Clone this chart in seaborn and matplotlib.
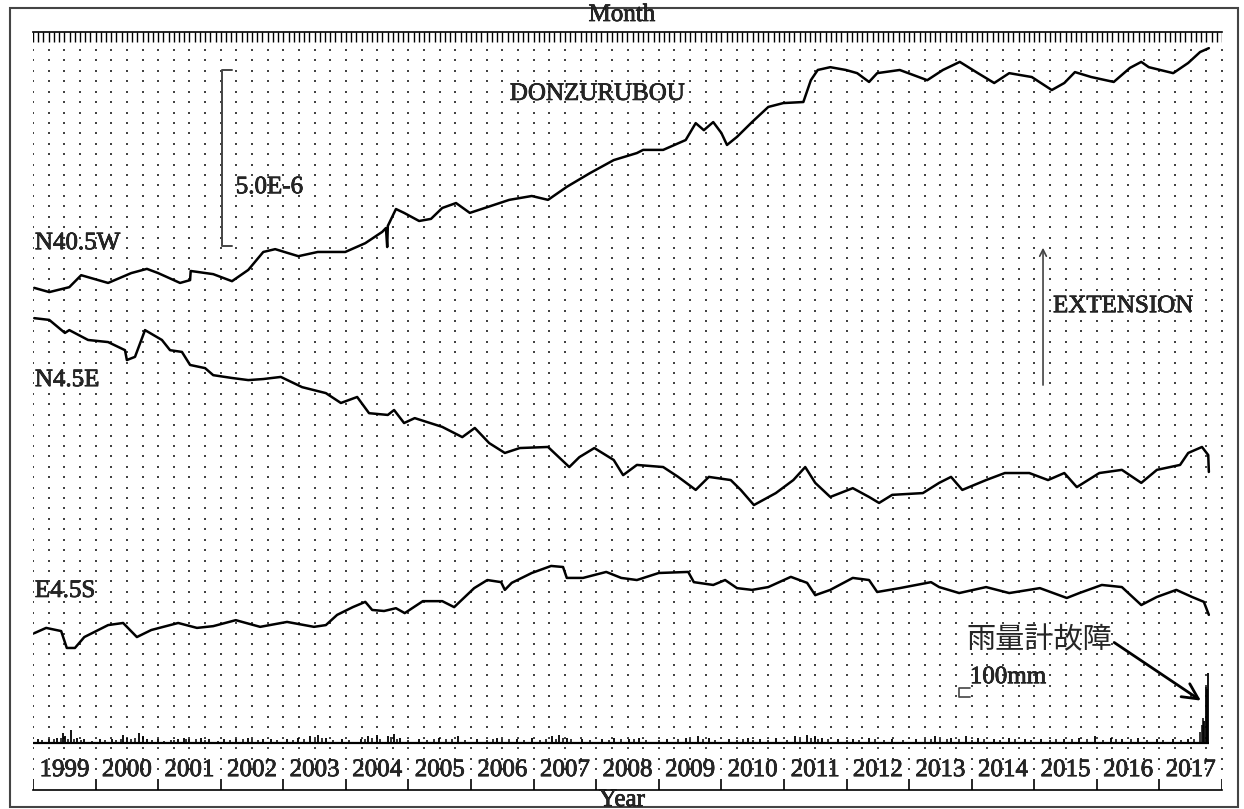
import numpy as np
import matplotlib
matplotlib.use("Agg")
import matplotlib.pyplot as plt
from matplotlib.patches import Rectangle
import matplotlib.patheffects as pe
import seaborn as sns

# strain in units of 1e-6 on one shared vertical scale (channels already offset)
n405w_year = [1999.02, 1999.26, 1999.58, 1999.77, 2000.20, 2000.57, 2000.82, 2001.00, 2001.35, 2001.51,
              2001.52, 2001.88, 2002.18, 2002.44, 2002.68, 2002.87, 2003.24, 2003.55, 2003.99, 2004.31,
              2004.58, 2004.64, 2004.66, 2004.67, 2004.80, 2004.93, 2005.17, 2005.36, 2005.54, 2005.76,
              2005.98, 2006.22, 2006.61, 2006.97, 2007.23, 2007.53, 2007.90, 2008.28, 2008.65, 2008.75,
              2009.07, 2009.43, 2009.59, 2009.72, 2009.87, 2010.00, 2010.09, 2010.25, 2010.49, 2010.75,
              2010.99, 2011.31, 2011.43, 2011.54, 2011.74, 2011.99, 2012.17, 2012.36, 2012.49, 2012.85,
              2013.29, 2013.54, 2013.81, 2014.10, 2014.36, 2014.60, 2014.96, 2015.28, 2015.48, 2015.65,
              2015.91, 2016.27, 2016.53, 2016.71, 2016.83, 2017.22, 2017.46, 2017.65, 2017.79]
n405w_val = [13.47, 13.35, 13.49, 13.83, 13.61, 13.89, 14.01, 13.89, 13.61, 13.69,
             13.95, 13.86, 13.66, 13.98, 14.49, 14.57, 14.37, 14.49, 14.49, 14.74,
             15.06, 15.17, 14.63, 15.23, 15.71, 15.60, 15.37, 15.43, 15.74, 15.88,
             15.60, 15.74, 15.97, 16.08, 15.97, 16.34, 16.73, 17.10, 17.30, 17.39,
             17.39, 17.67, 18.15, 17.95, 18.18, 17.87, 17.53, 17.76, 18.18, 18.61,
             18.72, 18.75, 19.37, 19.66, 19.74, 19.66, 19.57, 19.32, 19.57, 19.66,
             19.37, 19.66, 19.89, 19.57, 19.29, 19.57, 19.46, 19.09, 19.29, 19.60,
             19.46, 19.32, 19.72, 19.89, 19.74, 19.57, 19.86, 20.17, 20.28]

n45e_year = [1999.02, 1999.26, 1999.51, 1999.58, 1999.88, 2000.20, 2000.47, 2000.50, 2000.63, 2000.79,
             2001.06, 2001.19, 2001.38, 2001.51, 2001.75, 2001.88, 2002.18, 2002.44, 2002.68, 2002.96,
             2003.30, 2003.68, 2003.92, 2004.18, 2004.37, 2004.67, 2004.77, 2004.93, 2005.10, 2005.54,
             2005.86, 2006.06, 2006.29, 2006.54, 2006.78, 2007.23, 2007.57, 2007.73, 2007.97, 2008.28,
             2008.43, 2008.65, 2009.07, 2009.31, 2009.59, 2009.80, 2010.15, 2010.31, 2010.52, 2010.87,
             2011.15, 2011.34, 2011.50, 2011.74, 2012.10, 2012.36, 2012.52, 2012.73, 2013.22, 2013.48,
             2013.67, 2013.85, 2014.23, 2014.53, 2014.92, 2015.22, 2015.48, 2015.68, 2016.04, 2016.40,
             2016.71, 2016.96, 2017.33, 2017.46, 2017.68, 2017.78, 2017.79]
n45e_val = [12.61, 12.56, 12.19, 12.27, 11.99, 11.93, 11.70, 11.42, 11.51, 12.27,
            11.99, 11.70, 11.65, 11.28, 11.19, 10.99, 10.91, 10.85, 10.88, 10.94,
            10.65, 10.48, 10.20, 10.37, 9.91, 9.86, 10.00, 9.63, 9.77, 9.52,
            9.23, 9.49, 9.06, 8.78, 8.92, 8.95, 8.38, 8.66, 8.92, 8.58,
            8.15, 8.44, 8.38, 8.10, 7.73, 8.10, 8.01, 7.73, 7.30, 7.64,
            8.01, 8.38, 7.93, 7.53, 7.78, 7.53, 7.36, 7.59, 7.64, 7.93,
            8.10, 7.73, 8.01, 8.21, 8.21, 8.01, 8.21, 7.81, 8.21, 8.30,
            7.93, 8.30, 8.44, 8.78, 8.95, 8.72, 8.24]

e45s_year = [1999.02, 1999.21, 1999.45, 1999.54, 1999.67, 1999.82, 2000.20, 2000.44, 2000.66, 2000.89,
             2001.32, 2001.62, 2001.88, 2002.24, 2002.63, 2003.06, 2003.49, 2003.68, 2003.86, 2004.11,
             2004.31, 2004.42, 2004.61, 2004.80, 2004.94, 2005.23, 2005.54, 2005.73, 2006.05, 2006.26,
             2006.48, 2006.54, 2006.65, 2006.97, 2007.28, 2007.47, 2007.53, 2007.79, 2008.16, 2008.40,
             2008.65, 2009.00, 2009.47, 2009.56, 2009.87, 2010.06, 2010.25, 2010.49, 2010.75, 2011.11,
             2011.37, 2011.50, 2011.74, 2012.10, 2012.36, 2012.49, 2012.85, 2013.35, 2013.48, 2013.80,
             2014.23, 2014.60, 2015.09, 2015.52, 2015.72, 2016.08, 2016.40, 2016.71, 2016.96, 2017.27,
             2017.52, 2017.71, 2017.79]
e45s_val = [3.66, 3.81, 3.72, 3.24, 3.24, 3.55, 3.89, 3.95, 3.55, 3.75,
            3.95, 3.81, 3.86, 4.03, 3.84, 3.98, 3.84, 3.89, 4.18, 4.40,
            4.55, 4.32, 4.29, 4.37, 4.23, 4.57, 4.57, 4.40, 4.94, 5.17,
            5.11, 4.89, 5.09, 5.37, 5.57, 5.54, 5.23, 5.23, 5.40, 5.23,
            5.17, 5.37, 5.40, 5.11, 5.03, 5.17, 4.94, 4.89, 4.97, 5.26,
            5.09, 4.74, 4.89, 5.23, 5.17, 4.83, 4.94, 5.11, 4.97, 4.80,
            4.97, 4.80, 4.94, 4.66, 4.80, 5.03, 4.97, 4.46, 4.69, 4.89,
            4.69, 4.55, 4.18]

# rainfall (mm)
rain_year = [1999.08, 1999.26, 1999.39, 1999.48, 1999.51, 1999.61, 1999.70, 1999.82, 2000.07, 2000.26,
             2000.44, 2000.51, 2000.69, 2000.76, 2000.82, 2001.00, 2001.32, 2001.41, 2001.50, 2001.69,
             2001.81, 2002.06, 2002.25, 2002.43, 2002.68, 2002.81, 2003.06, 2003.24, 2003.43, 2003.55,
             2003.68, 2003.93, 2004.24, 2004.36, 2004.49, 2004.67, 2004.77, 2004.86, 2005.17, 2005.48,
             2005.79, 2006.10, 2006.41, 2006.73, 2006.97, 2007.29, 2007.41, 2007.53, 2007.78, 2008.09,
             2008.28, 2008.53, 2008.69, 2009.13, 2009.44, 2009.62, 2009.81, 2010.12, 2010.43, 2010.62,
             2010.87, 2011.18, 2011.37, 2011.49, 2011.61, 2011.86, 2012.11, 2012.36, 2012.73, 2013.11,
             2013.42, 2013.67, 2013.91, 2014.10, 2014.35, 2014.60, 2014.85, 2015.10, 2015.47, 2015.72,
             2015.97, 2016.22, 2016.40, 2016.65, 2016.96, 2017.21, 2017.46, 2017.72, 2017.74, 2017.76,
             2017.78]
rain_mm = [40, 50, 60, 110, 75, 150, 60, 50, 40, 50,
           85, 60, 110, 75, 50, 40, 50, 60, 50, 60,
           40, 40, 50, 60, 50, 50, 50, 60, 75, 85,
           60, 50, 50, 75, 85, 75, 95, 60, 50, 60,
           75, 50, 60, 50, 60, 75, 85, 60, 50, 50,
           60, 50, 60, 50, 60, 75, 60, 50, 60, 50,
           60, 75, 85, 75, 60, 50, 50, 60, 50, 50,
           75, 60, 75, 60, 50, 60, 50, 50, 50, 60,
           75, 60, 50, 60, 50, 50, 50, 250, 620, 600,
           780]
rain_small_year = [1999.15, 1999.33, 1999.44, 1999.56, 1999.65, 1999.76, 1999.95, 2000.15, 2000.33, 2000.40,
                   2000.56, 2000.63, 2000.90, 2001.10, 2001.20, 2001.26, 2001.45, 2001.60, 2001.75, 2001.95,
                   2002.15, 2002.35, 2002.50, 2002.60, 2002.90, 2003.15, 2003.33, 2003.50, 2003.62, 2003.80,
                   2004.05, 2004.30, 2004.42, 2004.55, 2004.72, 2004.82, 2005.00, 2005.30, 2005.40, 2005.60,
                   2005.70, 2005.90, 2006.25, 2006.35, 2006.50, 2006.60, 2006.85, 2007.10, 2007.20, 2007.35,
                   2007.47, 2007.60, 2007.90, 2008.20, 2008.40, 2008.60, 2008.80, 2009.00, 2009.30, 2009.50,
                   2009.70, 2009.90, 2010.25, 2010.35, 2010.50, 2010.75, 2011.05, 2011.25, 2011.43, 2011.55,
                   2011.70, 2012.00, 2012.20, 2012.45, 2012.60, 2012.90, 2013.25, 2013.35, 2013.50, 2013.60,
                   2013.80, 2014.00, 2014.20, 2014.45, 2014.70, 2014.95, 2015.25, 2015.35, 2015.60, 2015.85,
                   2016.10, 2016.30, 2016.55, 2016.80, 2017.05, 2017.35, 2017.55, 2017.65, 2017.68, 2017.70]
rain_small_mm = [30, 40, 60, 50, 40, 30, 25, 30, 35, 50,
                 40, 60, 30, 25, 30, 35, 40, 45, 30, 25,
                 30, 40, 45, 35, 30, 35, 40, 50, 55, 30,
                 30, 45, 60, 50, 70, 50, 30, 35, 45, 50,
                 40, 30, 35, 40, 45, 40, 30, 30, 45, 50,
                 60, 40, 30, 35, 40, 40, 35, 30, 40, 45,
                 40, 30, 35, 40, 35, 35, 35, 45, 60, 50,
                 40, 30, 35, 45, 35, 30, 40, 45, 50, 45,
                 40, 35, 40, 35, 40, 30, 35, 40, 45, 40,
                 35, 40, 45, 35, 30, 35, 40, 120, 200, 280]

channel_names = ["N40.5W", "N4.5E", "E4.5S"]
years = list(range(1999, 2018))

sns.set_style("white")
plt.rcParams["font.family"] = ["Liberation Serif", "DejaVu Serif"]
dark = [pe.withStroke(linewidth=0.5, foreground="black")]
FS = 18

W, H = 1244, 809
fig = plt.figure(figsize=(W / 100, H / 100), dpi=100)
ax = fig.add_axes([33 / W, 19 / H, 1189 / W, 758 / H])
ax.set_xlim(1999, 2018)
ax.set_ylim(-0.795, 20.739)
ax.set_xticks([])
ax.set_yticks([])
for side in ["left", "right"]:
    ax.spines[side].set_visible(False)
for side in ["top", "bottom"]:
    ax.spines[side].set_color("black")
    ax.spines[side].set_linewidth(1.2)

# dotted grid: every quarter year, fixed row spacing
gx = np.arange(1999, 2018.01, 0.25)
gy = (762 - (50 + 10.42 * np.arange(70))) / 35.2
GX, GY = np.meshgrid(gx, gy)
ax.scatter(GX.ravel(), GY.ravel(), s=2.6, marker="s", color="#444444", linewidths=0, zorder=1)

# month comb on top, year ticks at bottom
months = np.arange(1999, 2018.001, 1 / 12)
ax.vlines(months, 1 - 10 / 758, 1, transform=ax.get_xaxis_transform(), color="black", lw=1)
ax.vlines(years + [2018], 0, 11 / 758, transform=ax.get_xaxis_transform(), color="black", lw=1.2)
for y in years:
    ax.text(y + 0.5, -0.23, str(y), ha="center", va="center", fontsize=FS, path_effects=dark)

# strain channels
for yrs, vals in [(n405w_year, n405w_val), (n45e_year, n45e_val), (e45s_year, e45s_val)]:
    sns.lineplot(x=yrs, y=vals, ax=ax, color="black", linewidth=1.8, sort=False, estimator=None, zorder=3)

for name, yv in zip(channel_names, [14.74, 10.85, 4.86]):
    ax.text(1999.03, yv, name, ha="left", va="center", fontsize=FS, path_effects=dark)

ax.text(2006.62, 18.98, "DONZURUBOU", ha="left", va="center", fontsize=FS, path_effects=dark)

# 5.0E-6 scale bar
ax.plot([2002.18, 2002.02, 2002.02, 2002.18], [19.66, 19.66, 14.66, 14.66], color="#444444", lw=1.4)
ax.text(2002.24, 16.33, "5.0E-6", ha="left", va="center", fontsize=FS, path_effects=dark)

# extension arrow
ax.annotate("", xy=(2015.14, 14.69), xytext=(2015.14, 10.63),
            arrowprops=dict(arrowstyle="->", color="#444444", lw=1.2, mutation_scale=12))
ax.text(2015.30, 12.95, "EXTENSION", ha="left", va="center", fontsize=FS, path_effects=dark)

# rainfall on its own scale
ax2 = ax.twinx()
ax2.set_ylim(-522, 7900)
ax2.set_yticks([])
for side in ax2.spines:
    ax2.spines[side].set_visible(False)
ax2.hlines(0, 1999.0, 2017.79, color="black", lw=1.6)
ax2.vlines(rain_small_year, 0, rain_small_mm, color="black", lw=1.1)
ax2.vlines(rain_year, 0, rain_mm, color="black", lw=1.3)
ax2.plot([2013.97, 2013.80, 2013.80, 2013.97], [611, 611, 511, 511], color="#444444", lw=1.2)
ax.text(2013.97, 2.41, "100mm", ha="left", va="center", fontsize=FS, path_effects=dark)

ax.text(2013.91, 3.47, "雨量計故障", ha="left", va="center", fontsize=21,
        family=["Noto Sans CJK JP", "DejaVu Sans"])
ax.annotate("", xy=(2017.70, 1.70), xytext=(2016.24, 3.44),
            arrowprops=dict(arrowstyle="->", color="black", lw=2, mutation_scale=28))

fig.text(622 / W, 1 - 15 / H, "Month", ha="center", va="center", fontsize=FS, path_effects=dark)
fig.text(622 / W, 1 - 800 / H, "Year", ha="center", va="center", fontsize=FS, path_effects=dark)
fig.add_artist(Rectangle((10 / W, 2 / H), 1228 / W, 799 / H, transform=fig.transFigure,
                         fill=False, ec="#444444", lw=1.5))

fig.savefig("out.png", dpi=100)
